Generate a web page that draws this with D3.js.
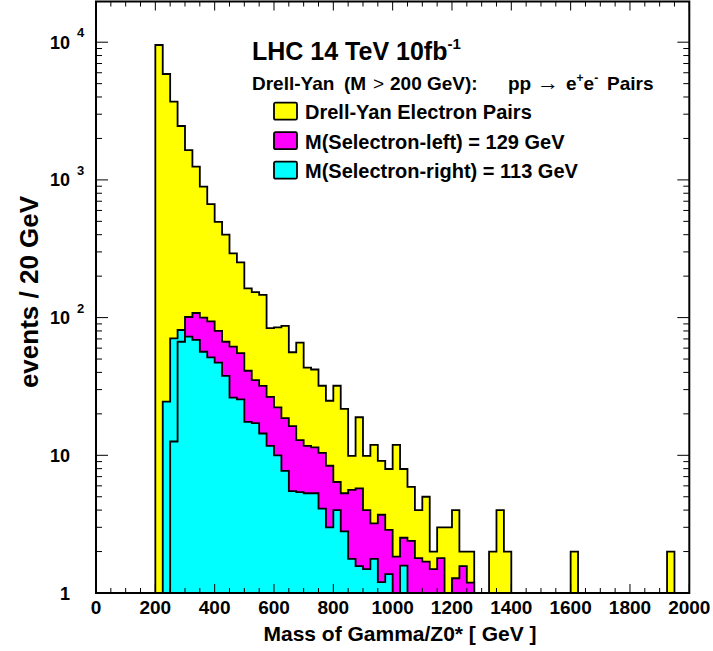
<!DOCTYPE html>
<html>
<head>
<meta charset="utf-8">
<script src="https://cdn.jsdelivr.net/npm/d3@7"></script>
<style>
  body { margin: 0; background: #fff; }
  text { font-family: "Liberation Sans", Arial, Helvetica, sans-serif; font-weight: bold; }
</style>
</head>
<body>
<svg id="chart" width="713" height="651"></svg>
<script>
// 80 bins of 25 GeV from 0 to 2000
const binWidth = 25;

const drellYan = [
  0, 0, 0, 0, 0, 0, 0, 0, 9540, 5875,
  3700, 2463, 1648, 1247, 893, 668, 495, 400, 293, 252,
  163, 153, 146, 84, 85, 87, 56, 65.8, 43.3, 42,
  32, 24.9, 32, 21.7, 9.9, 18.9, 9.9, 11.9, 9.1, 7.95,
  11.9, 7.95, 5.9, 4, 5, 2, 3, 3, 4, 2,
  2, 0, 0, 2, 4, 2, 0, 0, 0, 0,
  0, 0, 0, 0, 2, 0, 0, 0, 0, 0,
  0, 0, 0, 0, 0, 0, 0, 2, 0, 0
];

const selectronLeft = [
  0, 0, 0, 0, 0, 0, 0, 0, 0, 0,
  0, 0, 101, 108, 100, 94, 80, 66.8, 61.5, 55.3,
  41.1, 35.2, 31.9, 26.6, 22.3, 18.6, 16.3, 12.9, 11.7, 11.4,
  10.4, 8.4, 6.4, 5.3, 5.6, 5.75, 4.0, 3.2, 3.7, 2.87,
  1.84, 2.52, 2.39, 1.79, 1.69, 1.49, 1.79, 0, 1.28, 1.57,
  1.19, 0, 0, 0, 0, 0, 0, 0, 0, 0,
  0, 0, 0, 0, 0, 0, 0, 0, 0, 0,
  0, 0, 0, 0, 0, 0, 0, 0, 0, 0
];

const selectronRight = [
  0, 0, 0, 0, 0, 0, 0, 0, 0, 0,
  12.6, 66.8, 72.7, 68.8, 56.5, 51.5, 47.1, 37.7, 26.2, 25.5,
  17.5, 17.1, 14.4, 11.7, 10.0, 7.7, 5.5, 5.4, 5.3, 5.3,
  4.1, 3.0, 4.0, 2.8, 1.77, 1.57, 1.49, 1.77, 1.2, 1.37,
  0, 1.58, 0, 0, 0, 0, 0, 0, 0, 0,
  0, 0, 0, 0, 0, 0, 0, 0, 0, 0,
  0, 0, 0, 0, 0, 0, 0, 0, 0, 0,
  0, 0, 0, 0, 0, 0, 0, 0, 0, 0
];

// cyan bins near threshold that stick out behind the magenta histogram
const rightThreshold = [
  0, 0, 0, 0, 0, 0, 0, 0, 0, 24.5,
  70.7, 81.3, 0, 0, 0, 0, 0, 0, 0, 0,
  0, 0, 0, 0, 0, 0, 0, 0, 0, 0,
  0, 0, 0, 0, 0, 0, 0, 0, 0, 0,
  0, 0, 0, 0, 0, 0, 0, 0, 0, 0,
  0, 0, 0, 0, 0, 0, 0, 0, 0, 0,
  0, 0, 0, 0, 0, 0, 0, 0, 0, 0,
  0, 0, 0, 0, 0, 0, 0, 0, 0, 0
];

const xTicks = [0, 200, 400, 600, 800, 1000, 1200, 1400, 1600, 1800, 2000];
const yTicks = [1, 10, 100, 1000, 10000];
const legendLabels = ["Drell-Yan Electron Pairs", "M(Selectron-left) = 129 GeV", "M(Selectron-right) = 113 GeV"];
const legendColors = ["#ffff00", "#ff00ff", "#00ffff"];

const frame = { left: 96, right: 689.3, top: 1.5, bottom: 593 };
const yMin = 1, yMax = 1.975e4;

const svg = d3.select("#chart");

const x = d3.scaleLinear().domain([0, 2000]).range([frame.left, frame.right]);
const y = d3.scaleLog().domain([yMin, yMax]).range([frame.bottom, frame.top]);

const yv = v => y(Math.max(v, yMin));

function histPoints(values) {
  const pts = values.map((v, i) => [i * binWidth, v]);
  pts.push([values.length * binWidth, values[values.length - 1]]);
  return pts;
}

const area = d3.area()
  .curve(d3.curveStepAfter)
  .x(d => x(d[0]))
  .y0(frame.bottom)
  .y1(d => yv(d[1]));

const layers = [
  { values: drellYan, color: "#ffff00" },
  { values: rightThreshold, color: "#00ffff" },
  { values: selectronLeft, color: "#ff00ff" },
  { values: selectronRight, color: "#00ffff" }
];

svg.selectAll("path.hist")
  .data(layers)
  .enter()
  .append("path")
  .attr("class", "hist")
  .attr("d", d => area(histPoints(d.values)))
  .attr("fill", d => d.color)
  .attr("stroke", "#000")
  .attr("stroke-width", 1.8)
  .attr("stroke-linejoin", "miter");

// ticks on all four sides, pointing inward
const tickG = svg.append("g").attr("stroke", "#000").attr("stroke-width", 1);

const xMinor = d3.range(0, 2001, 50);
tickG.selectAll("line.xb")
  .data(xMinor)
  .enter()
  .append("line")
  .attr("x1", d => x(d)).attr("x2", d => x(d))
  .attr("y1", frame.bottom)
  .attr("y2", d => frame.bottom - (d % 200 === 0 ? 9 : 5));
tickG.selectAll("line.xt")
  .data(xMinor)
  .enter()
  .append("line")
  .attr("x1", d => x(d)).attr("x2", d => x(d))
  .attr("y1", frame.top)
  .attr("y2", d => frame.top + (d % 200 === 0 ? 9 : 5));

const yMinor = [];
for (let p = 0; p <= 4; p++) {
  for (let m = 1; m <= 9; m++) {
    const v = m * Math.pow(10, p);
    if (v <= yMax) yMinor.push({ v, major: m === 1 });
  }
}
tickG.selectAll("line.yl")
  .data(yMinor)
  .enter()
  .append("line")
  .attr("x1", frame.left)
  .attr("x2", d => frame.left + (d.major ? 12 : 6))
  .attr("y1", d => y(d.v)).attr("y2", d => y(d.v));
tickG.selectAll("line.yr")
  .data(yMinor)
  .enter()
  .append("line")
  .attr("x1", frame.right)
  .attr("x2", d => frame.right - (d.major ? 12 : 6))
  .attr("y1", d => y(d.v)).attr("y2", d => y(d.v));

// frame
svg.append("rect")
  .attr("x", frame.left).attr("y", frame.top)
  .attr("width", frame.right - frame.left).attr("height", frame.bottom - frame.top)
  .attr("fill", "none")
  .attr("stroke", "#000")
  .attr("stroke-width", 2);

// x tick labels
svg.selectAll("text.xl")
  .data(xTicks)
  .enter()
  .append("text")
  .attr("x", d => x(d))
  .attr("y", 614)
  .attr("text-anchor", "middle")
  .attr("font-size", 19)
  .text(d => d);

// y tick labels
const yLab = svg.selectAll("g.yl")
  .data(yTicks)
  .enter()
  .append("g")
  .attr("transform", d => `translate(0,${y(d)})`);
yLab.append("text")
  .attr("x", 70)
  .attr("y", 6.5)
  .attr("text-anchor", "end")
  .attr("font-size", 18)
  .text(d => (d === 1 ? "1" : "10"));
yLab.filter(d => d >= 100)
  .append("text")
  .attr("x", 77)
  .attr("y", -5)
  .attr("font-size", 13)
  .text(d => Math.round(Math.log10(d)));

// axis titles
svg.append("text")
  .attr("x", 400)
  .attr("y", 641)
  .attr("text-anchor", "middle")
  .attr("font-size", 21)
  .text("Mass of Gamma/Z0* [ GeV ]");

svg.append("text")
  .attr("transform", "translate(38,292) rotate(-90)")
  .attr("text-anchor", "middle")
  .attr("font-size", 26)
  .text("events / 20 GeV");

// headline
const head = svg.append("text")
  .attr("x", 252)
  .attr("y", 60)
  .attr("font-size", 25);
head.append("tspan").text("LHC 14 TeV 10fb");
head.append("tspan").attr("font-size", 15).attr("dy", -11).text("-1");

const sub = svg.append("text")
  .attr("y", 90)
  .attr("font-size", 19);
sub.append("tspan").attr("x", 252).text("Drell-Yan");
sub.append("tspan").attr("x", 344).text("(M");
sub.append("tspan").attr("x", 373).attr("font-weight", "normal").text(">");
sub.append("tspan").attr("x", 390).text("200 GeV):");

const proc = svg.append("text")
  .attr("y", 90)
  .attr("font-size", 19);
proc.append("tspan").attr("x", 508).text("pp");
proc.append("tspan").attr("x", 537).attr("font-size", 22).attr("font-weight", "normal").text("\u2192");
proc.append("tspan").attr("x", 566).text("e");
proc.append("tspan").attr("font-size", 12).attr("dy", -8).text("+");
proc.append("tspan").attr("dy", 8).text("e");
proc.append("tspan").attr("font-size", 12).attr("dy", -8).text("-");
proc.append("tspan").attr("x", 607).attr("dy", 8).text("Pairs");

// legend
const leg = svg.selectAll("g.leg")
  .data(legendLabels)
  .enter()
  .append("g")
  .attr("transform", (_, i) => `translate(274,${102.7 + 29.5 * i})`);
leg.append("rect")
  .attr("width", 23)
  .attr("height", 17)
  .attr("rx", 1.5)
  .attr("fill", (_, i) => legendColors[i])
  .attr("stroke", "#000")
  .attr("stroke-width", 1.8);
leg.append("text")
  .attr("x", 31)
  .attr("y", 16.5)
  .attr("font-size", 20)
  .text(d => d);
</script>
</body>
</html>
